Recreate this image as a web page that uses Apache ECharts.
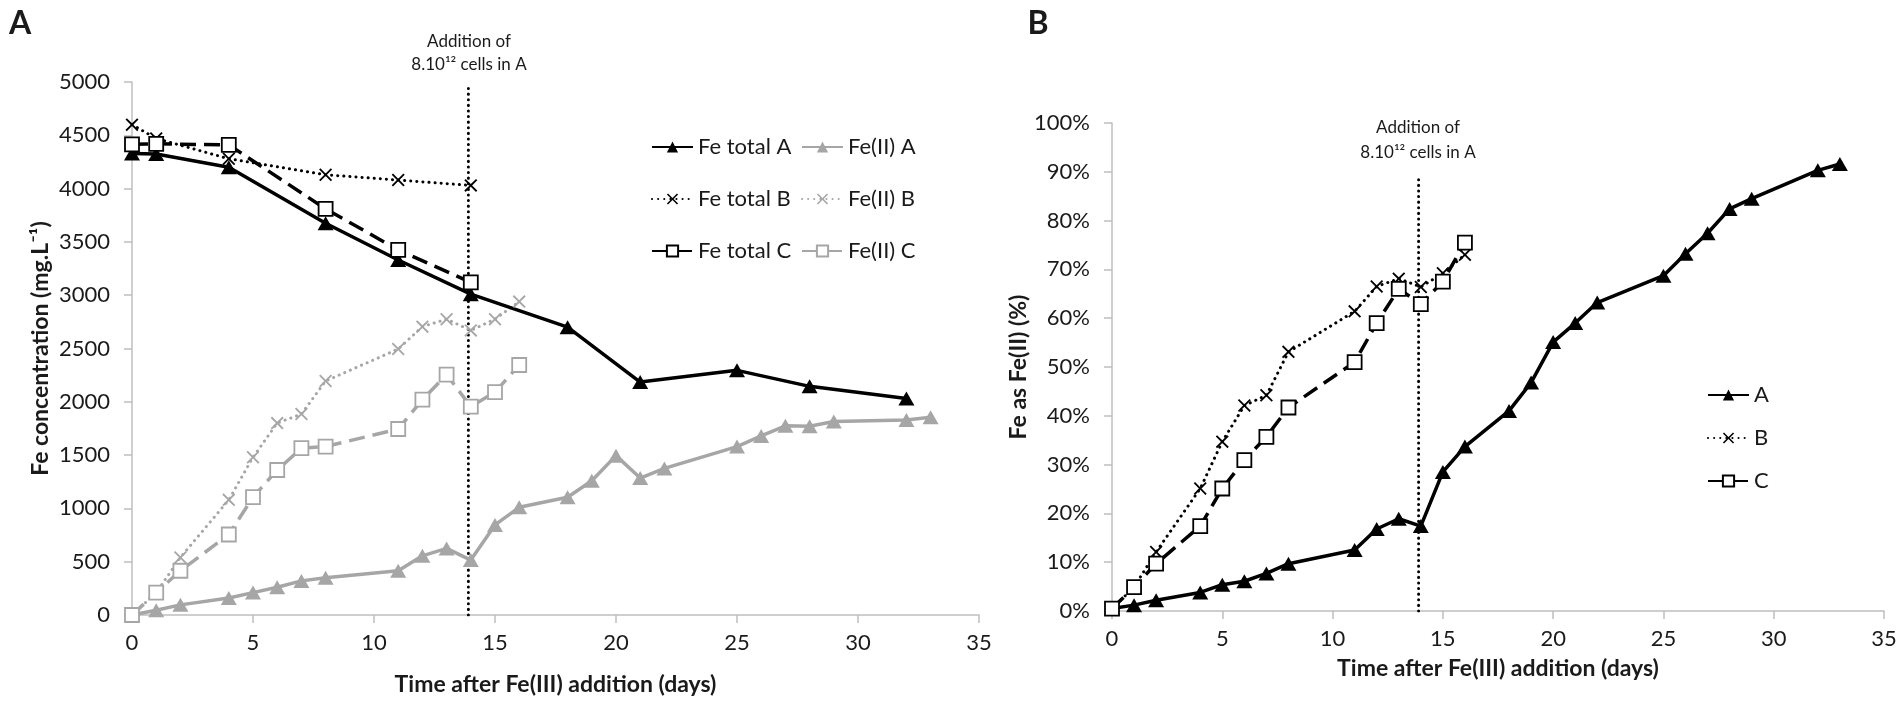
<!DOCTYPE html>
<html>
<head>
<meta charset="utf-8">
<script src="https://cdn.jsdelivr.net/npm/echarts@6/dist/echarts.min.js"></script>
<style>
html, body { margin: 0; padding: 0; background: #fff; }
#chart { width: 1902px; height: 703px; }
</style>
</head>
<body>
<div id="chart"></div>
<script>
// sampling days
const daysA = [0, 1, 2, 4, 5, 6, 7, 8, 11, 12, 13, 14, 15, 16, 18, 19, 20, 21, 22, 25, 26, 27, 28, 29, 32, 33]
const daysTotalA = [0, 1, 4, 8, 11, 14, 18, 21, 25, 28, 32]
const daysBC = [0, 1, 2, 4, 5, 6, 7, 8, 11, 12, 13, 14, 15, 16]
const daysTotalBC = [0, 1, 4, 8, 11, 14]

// panel A : Fe concentration (mg/L)
const feTotalA = [4330, 4325, 4200, 3675, 3330, 3010, 2700, 2185, 2295, 2145, 2030]
const feTotalB = [4600, 4470, 4280, 4130, 4080, 4030]
const feTotalC = [4415, 4420, 4410, 3810, 3425, 3120]
const fe2A = [0, 45, 95, 160, 210, 260, 320, 350, 415, 555, 625, 515, 845, 1010, 1105, 1260, 1495, 1285, 1375, 1580, 1680, 1775, 1770, 1815, 1830, 1855]
const fe2B = [0, 210, 540, 1080, 1480, 1800, 1885, 2195, 2495, 2705, 2775, 2670, 2775, 2940]
const fe2C = [0, 210, 415, 755, 1105, 1360, 1565, 1580, 1745, 2020, 2255, 1955, 2090, 2345]

// panel B : Fe as Fe(II) (%)
const pctA = [0.5, 1.2, 2.2, 3.8, 5.4, 6.1, 7.7, 9.7, 12.5, 16.8, 18.9, 17.4, 28.5, 33.7, 41.0, 46.8, 55.1, 59.0, 63.2, 68.7, 73.2, 77.4, 82.4, 84.5, 90.3, 91.6]
const pctB = [0.5, 4.9, 12.1, 25.1, 34.7, 42.1, 44.2, 53.1, 61.4, 66.5, 68.1, 66.4, 69.2, 73.0]
const pctC = [0.5, 4.9, 9.7, 17.4, 25.1, 30.9, 35.7, 41.7, 51.0, 59.0, 66.0, 62.9, 67.5, 75.5]

// cell addition
const additionDay = 13.9

const FONT = 'Lato'
const TXT = '#1a1a1a'
const BLACK = '#000'
const GREY = '#a6a6a6'
const AXIS = '#bfbfbf'
const CROSS = 'path://M0,1L1,0L5,4L9,0L10,1L6,5L10,9L9,10L5,6L1,10L0,9L4,5Z'

function zip (xs, ys) {
  return xs.map((x, i) => [x, ys[i]])
}

// one measured series
function serie (name, idx, data, color, dash, mark) {
  let lineStyle = { color: color, width: 3.5 }
  if (dash === 'dot') lineStyle = { color: color, width: 3, type: [0.1, 6], cap: 'round' }
  if (dash === 'dash') lineStyle = { color: color, width: 3.5, type: [16, 8] }
  let symbol = 'triangle'
  let symbolSize = [16, 14]
  let itemStyle = { color: color }
  if (mark === 'x') { symbol = CROSS; symbolSize = 13 }
  if (mark === 'square') {
    symbol = 'rect'
    symbolSize = 14
    itemStyle = { color: '#fff', borderColor: color, borderWidth: 1.8 }
  }
  return {
    name: name,
    type: 'line',
    xAxisIndex: idx,
    yAxisIndex: idx,
    data: data,
    symbol: symbol,
    symbolSize: symbolSize,
    showSymbol: true,
    itemStyle: itemStyle,
    lineStyle: lineStyle,
    animation: false,
    z: 3
  }
}

function vline (idx, top) {
  return {
    type: 'line',
    xAxisIndex: idx,
    yAxisIndex: idx,
    data: [[additionDay, 0], [additionDay, top]],
    symbol: 'none',
    silent: true,
    animation: false,
    lineStyle: { color: BLACK, width: 3, type: [0.1, 5.5], cap: 'round' },
    z: 2
  }
}

function xAxis (idx, gap) {
  return {
    gridIndex: idx,
    type: 'value',
    min: 0,
    max: 35,
    interval: 5,
    axisLine: { show: true, lineStyle: { color: AXIS, width: 1.5 } },
    axisTick: { show: true, length: 8, lineStyle: { color: AXIS, width: 1.5 } },
    splitLine: { show: false },
    axisLabel: { fontFamily: FONT, fontSize: 22, color: TXT, margin: 17 },
    name: 'Time after Fe(III) addition (days)',
    nameLocation: 'middle',
    nameGap: gap,
    nameTextStyle: { fontFamily: FONT, fontSize: 23, fontWeight: 'bold', color: TXT }
  }
}

function yAxis (idx, max, interval, name, fmt) {
  return {
    gridIndex: idx,
    type: 'value',
    min: 0,
    max: max,
    interval: interval,
    axisLine: { show: true, lineStyle: { color: AXIS, width: 1.5 } },
    axisTick: { show: true, length: 8, lineStyle: { color: AXIS, width: 1.5 } },
    splitLine: { show: false },
    axisLabel: { fontFamily: FONT, fontSize: 22, color: TXT, margin: 22, formatter: fmt },
    name: name,
    nameLocation: 'middle',
    nameRotate: 90,
    nameGap: 80,
    nameTextStyle: { fontFamily: FONT, fontSize: 23, fontWeight: 'bold', color: TXT }
  }
}

function legend (left, top, names, gap) {
  return {
    orient: 'vertical',
    left: left,
    top: top,
    data: names,
    itemWidth: 41,
    itemHeight: 14,
    itemGap: gap,
    selectedMode: false,
    textStyle: { fontFamily: FONT, fontSize: 22, color: TXT, lineHeight: 24 }
  }
}

function label (x, y, text, size, bold) {
  return {
    type: 'text',
    x: x,
    y: y,
    style: {
      text: text,
      fill: TXT,
      font: (bold ? 'bold ' : '') + size + 'px ' + FONT,
      align: 'center',
      verticalAlign: 'middle'
    }
  }
}

const chart = echarts.init(document.getElementById('chart'))

chart.setOption({
  backgroundColor: '#fff',
  animation: false,
  grid: [
    { left: 132, right: 923, top: 82, bottom: 88 },
    { left: 1112, right: 18, top: 123, bottom: 92 }
  ],
  xAxis: [xAxis(0, 58), xAxis(1, 46)],
  yAxis: [
    yAxis(0, 5000, 500, 'Fe concentration (mg.L⁻¹)', v => String(v)),
    yAxis(1, 100, 10, 'Fe as Fe(II) (%)', '{value}%')
  ],
  legend: [
    legend(646, 130, ['Fe total A', 'Fe total B', 'Fe total C'], 28),
    legend(796, 130, ['Fe(II) A', 'Fe(II) B', 'Fe(II) C'], 28),
    legend(1702, 378, ['A', 'B', 'C'], 19)
  ],
  graphic: [
    label(20, 24, 'A', 32, true),
    label(1038, 24, 'B', 32, true),
    label(469, 42, 'Addition of', 17),
    label(469, 65, '8.10¹² cells in A', 17),
    label(1418, 128, 'Addition of', 17),
    label(1418, 153, '8.10¹² cells in A', 17)
  ],
  series: [
    vline(0, 4960),
    vline(1, 89),
    serie('Fe(II) A', 0, zip(daysA, fe2A), GREY, 'solid', 'triangle'),
    serie('Fe(II) B', 0, zip(daysBC, fe2B), GREY, 'dot', 'x'),
    serie('Fe(II) C', 0, zip(daysBC, fe2C), GREY, 'dash', 'square'),
    serie('Fe total A', 0, zip(daysTotalA, feTotalA), BLACK, 'solid', 'triangle'),
    serie('Fe total B', 0, zip(daysTotalBC, feTotalB), BLACK, 'dot', 'x'),
    serie('Fe total C', 0, zip(daysTotalBC, feTotalC), BLACK, 'dash', 'square'),
    serie('A', 1, zip(daysA, pctA), BLACK, 'solid', 'triangle'),
    serie('B', 1, zip(daysBC, pctB), BLACK, 'dot', 'x'),
    serie('C', 1, zip(daysBC, pctC), BLACK, 'dash', 'square')
  ]
})
</script>
</body>
</html>
